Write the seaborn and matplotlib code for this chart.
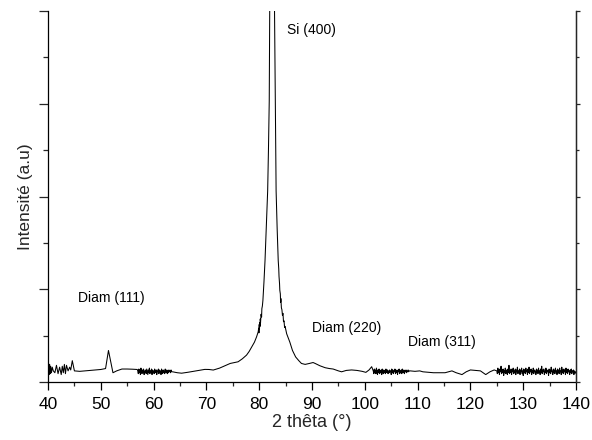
import numpy as np
import pandas as pd
import matplotlib
matplotlib.use("Agg")
import matplotlib.pyplot as plt
import seaborn as sns
from matplotlib.ticker import MultipleLocator

# ---- data ----
# sparse zigzag at the start of the scan
seg_a_x = [40.0, 40.1, 40.2, 40.3, 40.4, 40.5, 40.65, 40.8, 41.0, 41.3, 41.6, 41.9, 42.2, 42.5,
           42.7, 42.9, 43.1, 43.3, 43.5, 43.8, 44.1, 44.3, 44.6]
seg_a_y = [14, 20, 8, 19, 9, 17, 10, 16, 12, 10, 18, 9, 16, 8,
           17, 10, 19, 9, 18, 12, 16, 13, 23]
# smooth part with Diam (111) bump
seg_b_x = [45.0, 46.0, 47.0, 48.0, 49.0, 50.0, 50.9, 51.45, 52.3, 53.0, 54.0, 55.0, 56.0, 56.9]
seg_b_y = [12, 11.5, 12, 12.5, 13, 13.5, 14.5, 34, 10, 12, 14, 14, 13.8, 13.5]
# dense noise 57 - 63.4
noise_c_start = 57.0
noise_c_y = [12, 9, 14, 10, 13, 8, 15, 11, 9, 13, 10, 14, 8, 12, 10, 13, 9, 14, 11, 8,
             13, 10, 15, 9, 12, 11, 14, 8, 13, 10, 12, 9, 14, 11, 10, 13, 8, 12, 11, 14,
             9, 13, 10, 12, 8, 14, 11, 9, 13, 10, 12, 9, 14, 11, 10, 13, 9, 12, 10, 13,
             11, 12, 10, 13, 11]
# Si (400) region
seg_d_x = [63.6, 64.5, 65.3, 66.5, 68.0, 69.7, 70.5, 71.3, 72.5, 73.5, 74.5, 75.3, 76.0,
           76.8, 77.6, 78.1, 78.6, 79.1, 79.5, 79.8, 79.9, 79.95, 80.0, 80.05, 80.1, 80.15,
           80.2, 80.25, 80.35, 80.45, 80.5, 80.6, 80.7, 80.9, 81.1, 81.35, 81.6, 81.75,
           81.9, 82.0, 82.45, 82.9, 83.05, 83.2, 83.4, 83.6, 83.7, 83.75, 83.85, 83.9,
           84.0, 84.05, 84.1, 84.2, 84.3, 84.4, 84.5, 84.6, 84.7, 84.8, 84.9, 85.2,
           85.8, 86.3, 86.9, 87.5]
seg_d_y = [11, 10, 9.5, 10.5, 12, 13.6, 13.5, 12.9, 15, 17.5, 20, 21, 21.8,
           25, 29, 33, 38, 43, 48.7, 54, 58, 53, 62, 57, 64, 60,
           68, 64, 73, 70, 79, 82, 88, 108, 131, 168, 206, 250,
           303, 410, 3000, 400, 300, 206, 165, 131, 122, 114, 106, 99,
           95, 86, 90, 80, 78, 72, 74, 65, 66, 59, 60, 52,
           43, 34, 27, 23]
# tail after the Si peak
seg_e_x = [88.0, 88.7, 89.5, 90.2, 90.6, 91.5, 92.5, 93.3, 94.0, 95.0, 95.6, 96.5, 97.5,
           98.5, 99.5, 100.2, 100.8, 101.3]
seg_e_y = [20, 19, 20, 21, 20, 17.5, 15.4, 14.5, 14, 12, 11, 12.5, 13,
           12.5, 11.5, 10.4, 13, 16.5]
# dense noise 101.6 - 108.4
noise_f_start = 101.6
noise_f_y = [12, 9, 14, 10, 13, 9, 15, 11, 8, 13, 10, 14, 9, 12, 10, 13, 8, 14, 11, 9,
             13, 10, 12, 9, 14, 11, 10, 13, 9, 12, 10, 13, 11, 12, 8, 14, 10, 13, 9, 12,
             11, 14, 9, 13, 10, 12, 8, 13, 11, 14, 9, 12, 10, 13, 9, 14, 11, 10, 13, 9,
             12, 11, 13, 10, 12, 11, 13, 11, 12]
# smooth part with Diam (311)
seg_g_x = [108.6, 109.5, 110.4, 111.0, 112.0, 113.0, 114.0, 115.2, 116.5, 117.3, 118.4,
           119.2, 120.0, 121.0, 121.9, 122.9, 123.7, 124.5]
seg_g_y = [12, 11.5, 12, 11, 10.5, 10, 10, 10, 12, 10, 8,
           11, 13, 12.5, 12, 8, 11, 13]
# dense noise 125 - 140
noise_h_start = 125.0
noise_h_y = [12, 9, 15, 10, 13, 8, 14, 11, 17, 9, 13, 10, 14, 7, 12, 10, 15, 9, 13, 11,
             8, 14, 10, 18, 9, 12, 10, 14, 8, 13, 11, 15, 9, 12, 10, 14, 8, 13, 11, 16,
             9, 12, 10, 14, 8, 13, 11, 15, 9, 12, 7, 14, 10, 13, 9, 15, 11, 12, 8, 14,
             10, 16, 9, 13, 11, 14, 8, 12, 10, 15, 9, 13, 11, 12, 8, 14, 10, 13, 9, 15,
             11, 12, 8, 14, 10, 17, 9, 13, 11, 14, 8, 12, 10, 15, 9, 13, 11, 12, 7, 14,
             10, 13, 9, 16, 11, 12, 8, 14, 10, 13, 9, 15, 11, 12, 8, 14, 10, 13, 9, 15,
             11, 12, 8, 16, 10, 13, 9, 14, 11, 12, 8, 15, 10, 13, 9, 14, 11, 12, 8, 13,
             10, 14, 9, 12, 11, 13, 8, 12, 10, 11, 9]
noise_step = 0.1

labels = ["Si (400)", "Diam (111)", "Diam (220)", "Diam (311)"]
label_x = [85.3, 45.7, 90.0, 108.1]
label_y = [380, 91, 58, 43]

x_ticks = [40, 50, 60, 70, 80, 90, 100, 110, 120, 130, 140]

# ---- assemble ----
def noise_x(start, vals):
    return list(start + noise_step * np.arange(len(vals)))

theta = (seg_a_x + seg_b_x + noise_x(noise_c_start, noise_c_y) + seg_d_x + seg_e_x
         + noise_x(noise_f_start, noise_f_y) + seg_g_x + noise_x(noise_h_start, noise_h_y))
inten = (seg_a_y + seg_b_y + noise_c_y + seg_d_y + seg_e_y + noise_f_y + seg_g_y + noise_h_y)
df = pd.DataFrame({"theta": theta, "I": inten})

# ---- plot ----
sns.set_style("ticks")
plt.rcParams["font.family"] = ["Liberation Sans", "DejaVu Sans"]

fig = plt.figure(figsize=(5.92, 4.40), dpi=100)
ax = fig.add_axes([0.0811, 0.1318, 0.8919, 0.8432])
sns.lineplot(data=df, x="theta", y="I", ax=ax, color="black", linewidth=0.75,
             estimator=None, sort=False)

ax.set_xlim(40, 140)
ax.set_ylim(0, 400)
ax.set_xticks(x_ticks)
ax.xaxis.set_minor_locator(MultipleLocator(5))
ax.yaxis.set_major_locator(MultipleLocator(100))
ax.yaxis.set_minor_locator(MultipleLocator(50))
ax.set_yticklabels([])

ax.spines["top"].set_visible(False)
for s in ["left", "bottom", "right"]:
    ax.spines[s].set_linewidth(0.9)
    ax.spines[s].set_color("black")
ax.spines["right"].set_visible(True)

ax.tick_params(axis="x", which="major", direction="out", length=5.5, width=0.9,
               labelsize=12.5, pad=5, colors="black")
ax.tick_params(axis="x", which="minor", direction="out", length=2.9, width=0.9)
ax.tick_params(axis="y", which="major", direction="out", length=6.5, width=0.9)
ax.tick_params(axis="y", which="minor", direction="out", length=3.6, width=0.9)

ax2 = ax.twinx()
ax2.set_ylim(0, 400)
ax2.yaxis.set_major_locator(MultipleLocator(100))
ax2.yaxis.set_minor_locator(MultipleLocator(50))
ax2.set_yticklabels([])
ax2.tick_params(axis="y", which="major", direction="out", length=3.2, width=0.9)
ax2.tick_params(axis="y", which="minor", direction="out", length=1.8, width=0.9)
for s in ["top", "left", "bottom"]:
    ax2.spines[s].set_visible(False)
ax2.spines["right"].set_linewidth(0.9)

ax.set_xlabel("2 thêta (°)", fontsize=13, labelpad=2)
ax.set_ylabel("Intensité (a.u)", fontsize=12.5, labelpad=1)

for t, xx, yy in zip(labels, label_x, label_y):
    ax.text(xx, yy, t, fontsize=10, ha="left", va="center", color="black")

fig.savefig("out.png", dpi=100)
